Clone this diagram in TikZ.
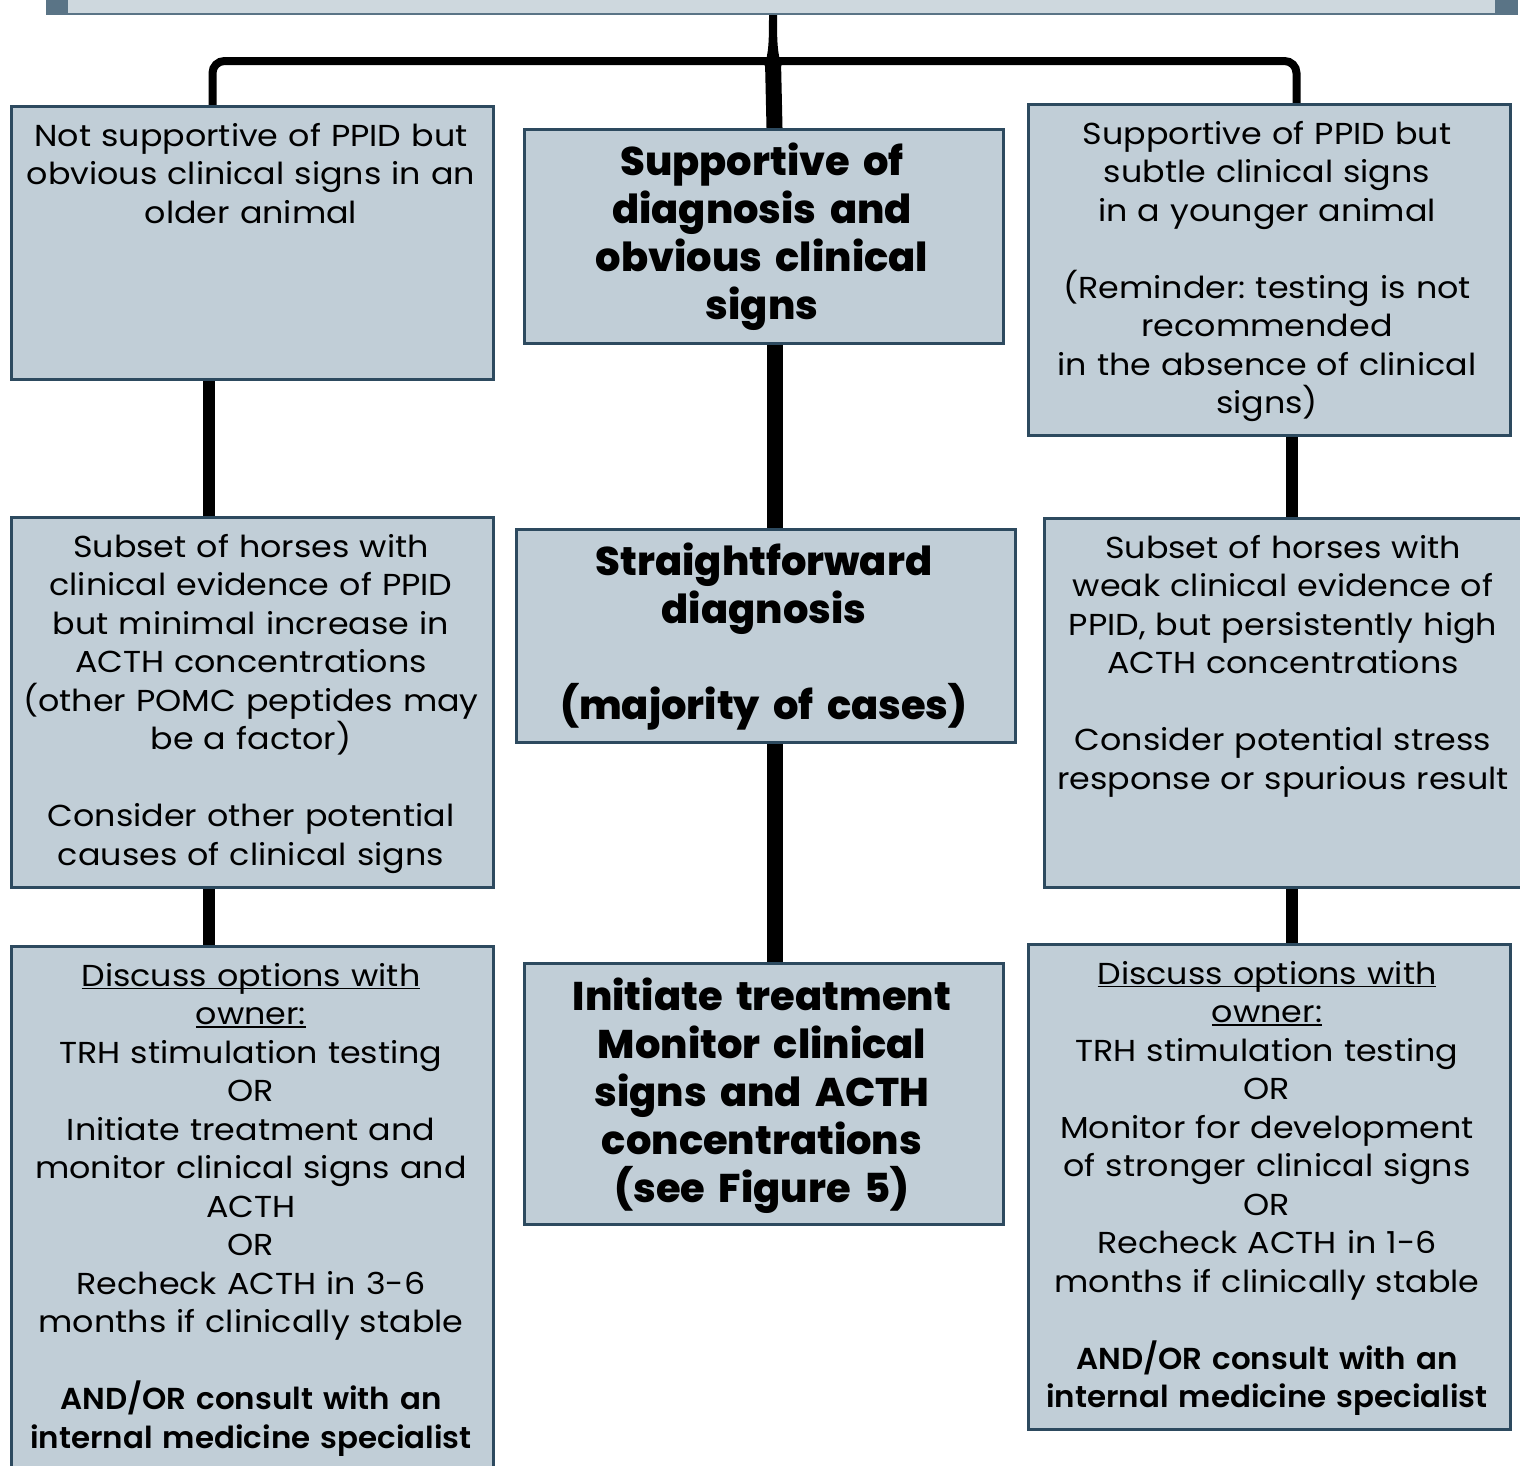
\documentclass[tikz,border=0pt]{standalone}
\usepackage{fontspec}
\setmainfont{Poppins}[FakeStretch=1.1]
\newfontfamily\semib{Poppins SemiBold}[FakeStretch=1.02]
\newfontfamily\heavy{Poppins ExtraBold}
\usetikzlibrary{backgrounds}
\definecolor{boxfill}{HTML}{C1CED7}
\definecolor{boxline}{HTML}{2D4A5F}
\definecolor{barfill}{HTML}{CED8DE}
\definecolor{barline}{HTML}{5A7486}
\frenchspacing
\newcommand{\ulx}[1]{\leavevmode\setbox0\hbox{#1}\rlap{\rule[-3.2pt]{\wd0}{1.4pt}}\box0}
\tikzset{
  box/.style={draw=boxline, fill=boxfill, line width=3pt, rectangle, inner sep=0pt},
  reg/.style={anchor=base, align=center, inner sep=0pt, text width=#1, font=\fontsize{30.3}{38.5}\selectfont},
  bld/.style={anchor=base, align=center, inner sep=0pt, text width=#1, font=\heavy\fontsize{40}{48}\selectfont},
  conn/.style={line width=#1, black},
}
\begin{document}
\begin{tikzpicture}[x=1pt,y=-1pt]
\useasboundingbox (0,0) rectangle (1520,1465);
% top bar
\node[fill=barfill, draw=barline, line width=2pt, minimum width=1470pt, minimum height=50pt, inner sep=0pt, anchor=south west] (top) at (46,15) {};
\fill[barline] (46,-40) rectangle (68,15);
\fill[barline] (1495,-40) rectangle (1516,15);

% boxes
\node[box, minimum width=482pt, minimum height=273pt, anchor=north west] (L1) at (10,105) {};
\node[box, minimum width=479pt, minimum height=214pt, anchor=north west] (C1) at (523,128) {};
\node[box, minimum width=482pt, minimum height=331pt, anchor=north west] (R1) at (1027,103) {};
\node[box, minimum width=482pt, minimum height=370pt, anchor=north west] (L2) at (10,516) {};
\node[box, minimum width=499pt, minimum height=213pt, anchor=north west] (C2) at (515,528) {};
\node[box, minimum width=500pt, minimum height=369pt, anchor=north west] (R2) at (1043,517) {};
\node[box, minimum width=482pt, minimum height=560pt, anchor=north west] (L3) at (10,945) {};
\node[box, minimum width=479pt, minimum height=261pt, anchor=north west] (C3) at (523,962) {};
\node[box, minimum width=482pt, minimum height=485pt, anchor=north west] (R3) at (1027,943) {};

% connectors
\begin{scope}[on background layer]
\coordinate (hub) at (773,61);
\fill[black] (764.5,66) .. controls (768.5,52) and (769,45) .. (769,14)
   arc[start angle=180, end angle=0, radius=4pt]
   .. controls (777,45) and (777.5,52) .. (781.5,66) -- cycle;
\draw[conn=8pt, rounded corners=12pt] ([xshift=-40pt]L1.north) |- (hub) -| ([xshift=27pt]R1.north);
\draw[conn=16pt] (hub) -- ([xshift=10.5pt]C1.north);
\draw[conn=12pt] ([xshift=-44pt]L1.south) -- ([xshift=-44pt]L1.south |- L2.north);
\draw[conn=12pt] ([xshift=-44pt]L2.south) -- ([xshift=-44pt]L2.south |- L3.north);
\draw[conn=16pt] ([xshift=10.5pt]C1.south) -- ([xshift=10.5pt]C1.south |- C2.north);
\draw[conn=16pt] ([xshift=10.5pt]C1.south |- C2.south) -- ([xshift=10.5pt]C1.south |- C3.north);
\draw[conn=12pt] ([xshift=22pt]R1.south) -- ([xshift=22pt]R1.south |- R2.north);
\draw[conn=12pt] ([xshift=22pt]R1.south |- R2.south) -- ([xshift=22pt]R1.south |- R3.north);
\end{scope}

% texts
\node[reg=478pt] (tL1) at (251,146) {Not supportive of PPID but\\obvious clinical signs in an\\older animal};
\node[bld=470pt] (tC1) at (762,175) {Supportive of\\diagnosis and\\obvious clinical\\signs};
\node[reg=478pt] (tR1) at (1267,144) {Supportive of PPID but\\subtle clinical signs\\in a younger animal\\[38.5pt](Reminder: testing is not\\recommended\\in the absence of clinical\\signs)};
\node[reg=478pt] (tL2) at (251,557) {Subset of horses with\\clinical evidence of PPID\\but minimal increase in\\ACTH concentrations\\(other POMC peptides may\\be a factor)\\[38.5pt]Consider other potential\\causes of clinical signs};
\node[bld=490pt] (tC2) at (764,575) {Straightforward\\diagnosis\\[48pt](majority of cases)};
\node[reg=478pt] (tR2) at (1283,558) {Subset of horses with\\weak clinical evidence of\\PPID, but persistently high\\ACTH concentrations\\[38.5pt]Consider potential stress\\response or spurious result};
\node[reg=478pt] (tL3) at (251,986) {\ulx{Discuss options with}\\\ulx{owner:}\\TRH stimulation testing\\OR\\Initiate treatment and\\monitor clinical signs and\\ACTH\\OR\\Recheck ACTH in 3-6\\months if clinically stable\\[38.5pt]{\semib AND/OR consult with an}\\{\semib internal medicine specialist}};
\node[bld=470pt] (tC3) at (762,1010) {Initiate treatment\\Monitor clinical\\signs and ACTH\\concentrations\\(see Figure 5)};
\node[reg=478pt] (tR3) at (1267,984) {\ulx{Discuss options with}\\\ulx{owner:}\\TRH stimulation testing\\OR\\Monitor for development\\of stronger clinical signs\\OR\\Recheck ACTH in 1-6\\months if clinically stable\\[38.5pt]{\semib AND/OR consult with an}\\{\semib internal medicine specialist}};
\end{tikzpicture}
\end{document}
